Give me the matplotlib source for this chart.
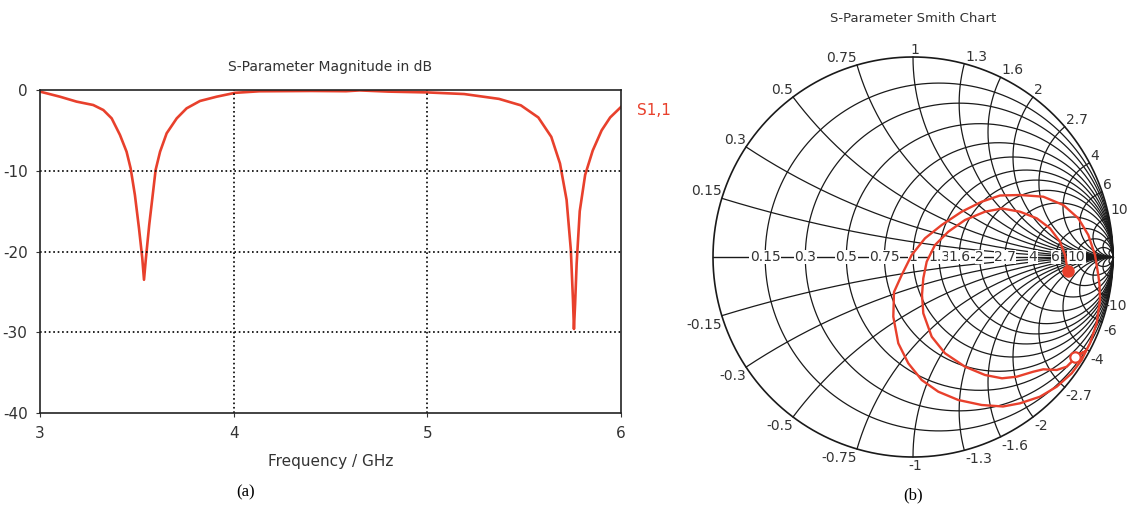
import numpy as np
import matplotlib.pyplot as plt

plt.rcParams['axes.unicode_minus'] = False

# panel (a): S11 magnitude
freq = [3.0, 3.103, 3.189, 3.275, 3.327, 3.37, 3.413, 3.447, 3.468, 3.49,
        3.511, 3.528, 3.537, 3.547, 3.564, 3.582, 3.597, 3.62, 3.654, 3.706,
        3.757, 3.826, 3.912, 4.007, 4.132, 4.4, 4.58, 4.65, 4.8, 5.0,
        5.19, 5.37, 5.483, 5.573, 5.64, 5.685, 5.719, 5.741, 5.752, 5.757,
        5.763, 5.771, 5.787, 5.815, 5.854, 5.9, 5.944, 6.0]
s11_db = [-0.2, -0.83, -1.44, -1.86, -2.48, -3.51, -5.57, -7.64, -9.7, -13.0,
          -17.1, -20.8, -23.5, -20.8, -16.7, -13.0, -9.9, -7.64, -5.36, -3.51,
          -2.27, -1.36, -0.83, -0.35, -0.16, -0.12, -0.15, -0.05, -0.2, -0.3,
          -0.5, -1.1, -1.9, -3.4, -5.8, -9.1, -13.6, -19.8, -26.0, -29.6,
          -26.5, -21.5, -15.0, -10.5, -7.5, -5.0, -3.4, -2.1]

# panel (b): reflection coefficient trace
gamma_re = [0.81, 0.865, 0.885, 0.9185, 0.935, 0.9325, 0.9265, 0.91, 0.8765, 0.8265,
            0.7515, 0.6515, 0.535, 0.435, 0.3435, 0.2435, 0.1435, 0.06, -0.0065, -0.0565,
            -0.095, -0.0985, -0.0735, -0.0235, 0.0435, 0.1265, 0.2265, 0.3435, 0.45, 0.535,
            0.635, 0.7185, 0.7935, 0.8435, 0.865, 0.81,
            0.7935, 0.7685, 0.7185, 0.6515, 0.6015, 0.5185, 0.445, 0.36, 0.26, 0.16,
            0.0935, 0.0515, 0.045, 0.0515, 0.0685, 0.11, 0.1765, 0.26, 0.36, 0.445,
            0.535, 0.6185, 0.685, 0.735, 0.76, 0.7685, 0.7765]
gamma_im = [-0.4985, -0.47, -0.4315, -0.3315, -0.215, -0.14, -0.09, 0.01, 0.11, 0.1935,
            0.26, 0.3015, 0.31, 0.3075, 0.2765, 0.2265, 0.16, 0.0935, 0.01, -0.09,
            -0.175, -0.2985, -0.4315, -0.5315, -0.615, -0.6735, -0.715, -0.74, -0.7475, -0.7315,
            -0.6985, -0.6485, -0.5815, -0.515, -0.47, -0.4985,
            -0.5235, -0.5485, -0.565, -0.5615, -0.5735, -0.5985, -0.6065, -0.59, -0.5485, -0.4815,
            -0.3985, -0.2815, -0.19, -0.1065, -0.0235, 0.06, 0.1265, 0.185, 0.2265, 0.2425,
            0.2265, 0.1935, 0.1435, 0.0765, 0.01, -0.04, -0.07]

grid_vals = [0.15, 0.3, 0.5, 0.75, 1, 1.3, 1.6, 2, 2.7, 4, 6, 10]
grid_labels = ['0.15', '0.3', '0.5', '0.75', '1', '1.3', '1.6', '2', '2.7', '4', '6', '10']
extra_vals = [20, 50]   # unlabelled lines that crowd the right-hand end

red = '#e8402c'
txt = '#333333'
gridc = '#1a1a1a'

fig = plt.figure(figsize=(11.28, 5.09), dpi=100)

# ---- (a) magnitude plot
ax = fig.add_axes([40 / 1128, 1 - 413 / 509, 581 / 1128, 323 / 509])
ax.plot(freq, s11_db, color=red, lw=1.9)
ax.set_xlim(3, 6)
ax.set_ylim(-40, 0)
ax.set_xticks([3, 4, 5, 6])
ax.set_yticks([0, -10, -20, -30, -40])
ax.tick_params(labelsize=11, colors=txt, length=3, pad=6)
for s in ax.spines.values():
    s.set_color('#222222')
    s.set_linewidth(1.2)
for v in [4, 5]:
    ax.axvline(v, color='black', ls=':', lw=1.2)
for v in [-10, -20, -30]:
    ax.axhline(v, color='black', ls=':', lw=1.2)
ax.set_title('S-Parameter Magnitude in dB', fontsize=10, color=txt, pad=14)
ax.set_xlabel('Frequency / GHz', fontsize=11, color=txt, labelpad=10)
ax.text(1.028, 0.938, 'S1,1', transform=ax.transAxes, color=red, fontsize=11, va='center')
fig.text(246 / 1128, 1 - 492 / 509, '(a)', family='Liberation Serif', fontsize=12,
         ha='center', va='center')

# ---- (b) Smith chart
sx = fig.add_axes([693 / 1128, 1 - 477 / 509, 435 / 1128, 440 / 509])
sx.set_xlim(-1.1, 1.075)
sx.set_ylim(-1.1, 1.1)
sx.axis('off')

t = np.linspace(0, 2 * np.pi, 400)
sx.plot(np.cos(t), np.sin(t), color=gridc, lw=1.2)
sx.plot([-1, 1], [0, 0], color=gridc, lw=1.0)
rr = np.concatenate([[0], np.geomspace(1e-3, 1e4, 600)])
for v in grid_vals + extra_vals:
    c = v / (1 + v)
    rad = 1 / (1 + v)
    if v < 50:
        sx.plot(c + rad * np.cos(t), rad * np.sin(t), color=gridc, lw=0.9)
    for sgn in (1, -1):
        z = rr + 1j * sgn * v
        g = (z - 1) / (z + 1)
        sx.plot(g.real, g.imag, color=gridc, lw=0.9)

for v, lab in zip(grid_vals, grid_labels):
    # resistance labels along the real axis
    sx.text((v - 1) / (v + 1), 0, lab, fontsize=10, color=txt, ha='center', va='center',
            bbox=dict(facecolor='white', edgecolor='none', pad=0.3), zorder=3)
    # reactance labels round the rim
    for sgn in (1, -1):
        g = (1j * sgn * v - 1) / (1j * sgn * v + 1)
        if g.real > 0.05:
            ha, dx = 'left', 1
        elif g.real < -0.05:
            ha, dx = 'right', 0
        else:
            ha, dx = 'center', 2
        if v == 10 and sgn < 0:
            dx = -5
        va = 'bottom' if sgn > 0 else 'top'
        dy = 0 if sgn > 0 else -2
        sx.annotate(lab if sgn > 0 else '-' + lab, (g.real, g.imag),
                    xytext=(dx * 0.72, dy * 0.72), textcoords='offset points',
                    ha=ha, va=va, fontsize=10, color=txt, annotation_clip=False)

sx.plot(gamma_re, gamma_im, color=red, lw=1.7, zorder=4)
sx.plot(gamma_re[-1], gamma_im[-1], 'o', color=red, ms=8, zorder=5)
sx.plot(gamma_re[0], gamma_im[0], 'o', mfc='white', mec=red, mew=1.6, ms=7.5, zorder=5)

fig.text(913 / 1128, 1 - 18 / 509, 'S-Parameter Smith Chart', fontsize=9.5, color=txt,
         ha='center', va='center')
fig.text(913 / 1128, 1 - 495 / 509, '(b)', family='Liberation Serif', fontsize=12,
         ha='center', va='center')

fig.savefig('out.png', dpi=100)
